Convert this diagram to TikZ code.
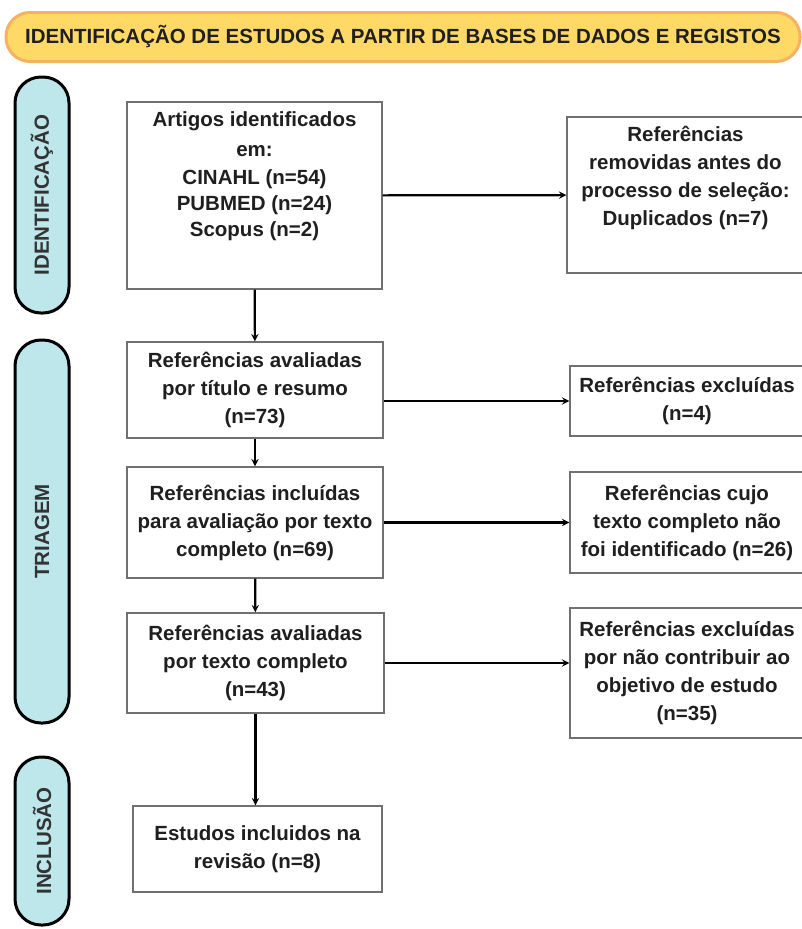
\documentclass[tikz,border=0pt]{standalone}
\usepackage{fontspec}
\setmainfont{Liberation Sans}
\definecolor{HeadYellow}{RGB}{255,217,102}
\definecolor{HeadOrange}{RGB}{246,178,96}
\definecolor{StageCyan}{RGB}{190,231,235}
\definecolor{BoxGray}{RGB}{112,112,112}
\usepackage{tikz}
\usetikzlibrary{shapes,arrows}

\begin{document}
\begin{tikzpicture}[x=1pt,y=-1pt]
	\useasboundingbox (0,0) rectangle (802,929);
	\tikzstyle{every node}=[font=\fontsize{20.5}{28}\selectfont\bfseries, text=black!88, align=center, inner sep=0pt];
	\tikzstyle{box}=[draw=BoxGray, line width=1.4pt, fill=white];
	\tikzstyle{stage}=[draw=black, line width=3pt, fill=StageCyan, rounded corners=26pt, minimum height=54pt, rotate=90, text=black!80];
	\tikzstyle{flow}=[->, >=stealth, line width=2.2pt];
	% header
	\node [draw=HeadOrange, fill=HeadYellow, line width=3pt, rounded corners=24pt, minimum width=794pt, minimum height=49pt] (head) at (403,37) {IDENTIFICAÇÃO DE ESTUDOS A PARTIR DE BASES DE DADOS E REGISTOS};
	% stages
	\node [stage, minimum width=236pt] (s1) at (42,195) {IDENTIFICAÇÃO};
	\node [stage, minimum width=383pt] (s2) at (42,531.5) {TRIAGEM};
	\node [stage, minimum width=168pt] (s3) at (42,841) {INCLUSÃO};
	% main column
	\node [box, minimum width=255pt, minimum height=187pt] (b1) at (254.5,195.5) {Artigos identificados\\[2pt]em:\\CINAHL (n=54)\\[-2pt]PUBMED (n=24)\\[-2pt]Scopus (n=2)\\[14pt]\mbox{}};
	\node [box, minimum width=256pt, minimum height=96pt] (b2) at (255,390) {Referências avaliadas\\por título e resumo\\(n=73)};
	\node [box, minimum width=256pt, minimum height=111pt] (b3) at (255,522.5) {Referências incluídas\\para avaliação por texto\\completo (n=69)};
	\node [box, minimum width=257pt, minimum height=100pt] (b4) at (255.5,663) {Referências avaliadas\\por texto completo\\(n=43)};
	\node [box, minimum width=249pt, minimum height=86pt] (b5) at (257.5,849) {Estudos incluidos na\\revisão (n=8)};
	% right column
	\node [box, minimum width=237pt, minimum height=156pt] (r1) at (685.5,195) {Referências\\removidas antes do\\processo de seleção:\\Duplicados (n=7)\\[10pt]\mbox{}};
	\node [box, minimum width=234pt, minimum height=70pt] (r2) at (687,401) {Referências excluídas\\(n=4)};
	\node [box, minimum width=234pt, minimum height=101pt] (r3) at (687,522.5) {Referências cujo\\texto completo não\\foi identificado (n=26)};
	\node [box, minimum width=234pt, minimum height=130pt] (r4) at (687,673) {Referências excluídas\\por não contribuir ao\\objetivo de estudo\\(n=35)};
	% connectors
	\draw [flow] (b1) -- (r1);
	\draw [flow] (b2.east |- r2.west) -- (r2.west);
	\draw [flow] (b3) -- (r3);
	\draw [flow] (b4) -- (b4 -| r4.west);
	\draw [flow] (b1) -- (b2);
	\draw [flow] (b2) -- (b3);
	\draw [flow] (b3) -- (b4);
	\draw [flow] (b4.south) -- (b4.south |- b5.north);
\end{tikzpicture}
\end{document}
